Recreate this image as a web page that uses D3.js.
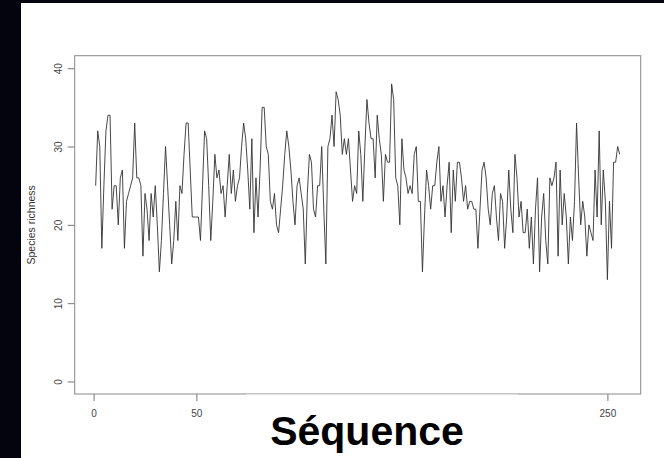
<!DOCTYPE html>
<html>
<head>
<meta charset="utf-8">
<script src="https://cdn.jsdelivr.net/npm/d3@7"></script>
<style>
  html, body { margin: 0; padding: 0; background: #04040f; }
  svg { display: block; }
</style>
</head>
<body>
<svg id="chart" width="664" height="458"></svg>
<script>
// species richness per sample, in sequence order (1..256)
const richness = [
  25, 32, 30, 17, 25, 32, 34, 34, 22, 25, 25, 20, 26, 27, 17, 23,
  24, 25, 26, 33, 26, 26, 25, 16, 24, 22, 18, 24, 21, 25, 20, 14,
  18, 24, 30, 25, 20, 15, 18, 23, 18, 25, 24, 29, 33, 33, 27, 21,
  21, 21, 21, 18, 25, 32, 31, 25, 18, 23, 29, 26, 27, 24, 25, 21,
  25, 29, 24, 27, 23, 25, 26, 30, 33, 31, 27, 22, 31, 19, 26, 21,
  27, 35, 35, 30, 29, 23, 22, 24, 20, 19, 22, 25, 29, 32, 30, 27,
  23, 20, 25, 26, 24, 22, 15, 24, 29, 28, 22, 21, 25, 25, 30, 22,
  15, 30, 31, 34, 30, 37, 36, 34, 29, 31, 29, 31, 27, 23, 25, 24,
  32, 29, 23, 30, 36, 33, 31, 31, 26, 34, 31, 29, 23, 29, 28, 28,
  38, 36, 26, 25, 20, 31, 27, 26, 24, 25, 24, 29, 30, 23, 23, 14,
  21, 27, 25, 22, 25, 25, 28, 30, 23, 25, 21, 25, 28, 19, 27, 23,
  28, 28, 26, 23, 25, 22, 23, 23, 22, 22, 17, 22, 27, 28, 26, 22,
  20, 24, 25, 21, 18, 24, 23, 17, 21, 27, 22, 19, 29, 26, 21, 23,
  19, 19, 22, 17, 21, 15, 22, 26, 14, 21, 24, 18, 15, 26, 25, 26,
  28, 16, 27, 20, 24, 21, 15, 21, 18, 23, 33, 26, 20, 23, 21, 16,
  20, 19, 18, 27, 21, 32, 20, 27, 23, 13, 23, 17, 28, 28, 30, 29
];
// 100/150/200 sit under the pasted title in the original, so only these show
const xTicks = [0, 50, 250];
const yTicks = [0, 10, 20, 30, 40];
const yTitle = "Species richness";
const xTitle = "Séquence";

const svg = d3.select("#chart");
const font = "'Liberation Sans', Arial, Helvetica, sans-serif";

// white page, dark strip left and top
svg.append("rect").attr("x", 21).attr("y", 3).attr("width", 643).attr("height", 455).attr("fill", "#fff");

const box = { left: 74.7, right: 640.7, top: 55.7, bottom: 394 };

const n = richness.length;
const padX = 0.04 * (n - 1);
const x = d3.scaleLinear().domain([1 - padX, n + padX]).range([box.left, box.right]);
const y = d3.scaleLinear().domain([-1.6, 41.6]).range([box.bottom, box.top]);

const line = d3.line().x((d, i) => x(i + 1)).y(d => y(d));

svg.append("path")
  .datum(richness)
  .attr("fill", "none")
  .attr("stroke", "#333")
  .attr("stroke-width", 0.9)
  .attr("d", line);

// axes, R-style: outward ticks, no domain path
const yAxis = svg.append("g")
  .attr("transform", `translate(${box.left},0)`)
  .call(d3.axisLeft(y).tickValues(yTicks).tickSize(7).tickSizeOuter(0));
yAxis.select(".domain").remove();
yAxis.selectAll("line").attr("stroke", "#777");
yAxis.selectAll("text")
  .attr("font-family", font).attr("font-size", 10).attr("fill", "#444")
  .attr("x", null).attr("dy", null)
  .attr("text-anchor", "middle")
  .attr("transform", "translate(-13,0) rotate(-90)");

const xAxis = svg.append("g")
  .attr("transform", `translate(0,${box.bottom})`)
  .call(d3.axisBottom(x).tickValues(xTicks).tickSize(7).tickSizeOuter(0));
xAxis.select(".domain").remove();
xAxis.selectAll("line").attr("stroke", "#777");
xAxis.selectAll("text")
  .attr("font-family", font).attr("font-size", 10).attr("fill", "#444")
  .attr("y", 23).attr("dy", null);

// plot box
svg.append("rect")
  .attr("x", box.left).attr("y", box.top)
  .attr("width", box.right - box.left).attr("height", box.bottom - box.top)
  .attr("fill", "none").attr("stroke", "#888").attr("stroke-width", 1);

svg.append("text")
  .attr("transform", `translate(35,${(box.top + box.bottom) / 2}) rotate(-90)`)
  .attr("text-anchor", "middle")
  .attr("font-family", font).attr("font-size", 10.5).attr("fill", "#333")
  .text(yTitle);

// pasted-over title patch
svg.append("rect").attr("x", 246).attr("y", 394.5).attr("width", 272).attr("height", 64).attr("fill", "#fff");
svg.append("text")
  .attr("x", 367).attr("y", 445)
  .attr("text-anchor", "middle")
  .attr("font-family", font).attr("font-weight", "bold").attr("font-size", 41)
  .attr("fill", "#000")
  .text(xTitle);
</script>
</body>
</html>
